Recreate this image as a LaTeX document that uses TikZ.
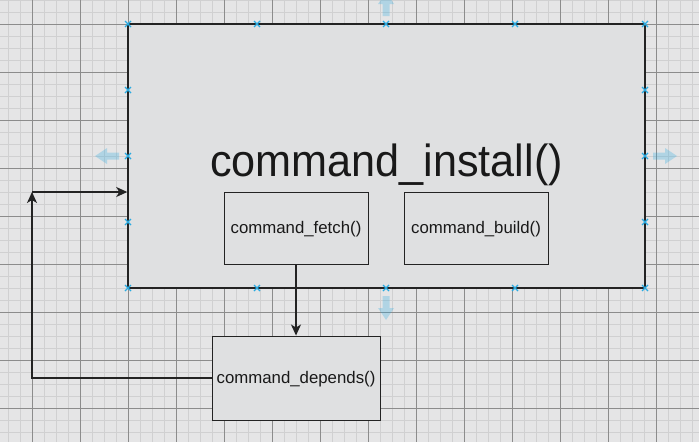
\documentclass[tikz,border=0pt]{standalone}
\usepackage{fontspec}
\setmainfont{Liberation Sans}
\newfontfamily\titlefont[FakeStretch=0.96]{Liberation Sans}
\usetikzlibrary{arrows.meta}
\definecolor{canvas}{RGB}{229,229,230}
\definecolor{boxfill}{RGB}{223,224,225}
\definecolor{minorgrid}{RGB}{208,208,209}
\definecolor{majorgrid}{RGB}{140,140,140}
\definecolor{handlecol}{RGB}{41,171,226}
\definecolor{edgecol}{RGB}{35,35,35}
\definecolor{txtcol}{RGB}{25,25,25}
\tikzset{
  minorline/.style={draw=minorgrid, line width=1pt},
  majorline/.style={draw=majorgrid, line width=1pt},
  bigbox/.style={draw=edgecol, fill=boxfill, line width=1.5pt, inner sep=0pt},
  smallbox/.style={draw=edgecol, fill=boxfill, line width=1pt, inner sep=0pt,
    text=txtcol, font=\fontsize{16.8}{20}\selectfont},
  conn/.style={draw=edgecol, line width=1.4pt, -{Stealth[length=11pt,width=10pt,inset=3pt]}},
  hoverarrow/.pic={\fill[handlecol, opacity=0.28] (0,-3.5) -- (12,-3.5) -- (12,-8) -- (24,0) -- (12,8) -- (12,3.5) -- (0,3.5) -- cycle;},
  handlemark/.pic={\draw[handlecol, line width=1.3pt] (-3,-3) -- (3,3) (-3,3) -- (3,-3);}
}
\begin{document}
\begin{tikzpicture}[x=1pt,y=-1pt]
\fill[canvas] (0,0) rectangle (699,442);
\useasboundingbox (0,0) rectangle (699,442);
% grid
\foreach \gx in {8,20,...,698} \draw[minorline] (\gx,0) -- (\gx,442);
\foreach \gy in {0,12,...,442} \draw[minorline] (0,\gy) -- (699,\gy);
\foreach \gx in {32,80,...,698} \draw[majorline] (\gx,0) -- (\gx,442);
\foreach \gy in {24,72,...,442} \draw[majorline] (0,\gy) -- (699,\gy);
% boxes
\node[bigbox, minimum width=517pt, minimum height=264pt] (install) at (386.5,156) {};
\node[anchor=base, text=txtcol, font=\titlefont\fontsize{45}{54}\selectfont] (installlabel) at (386.5,176) {command\_install()};
\node[smallbox, minimum width=144pt, minimum height=72pt, text height=12pt, text depth=2pt] (fetch) at (296,228) {command\_fetch()};
\node[smallbox, minimum width=144pt, minimum height=72pt, text height=12pt, text depth=2pt] (build) at (476,228) {command\_build()};
\node[smallbox, minimum width=168pt, minimum height=84pt, text height=12pt, text depth=2pt] (depends) at (296,378) {command\_depends()};
% connectors
\coordinate (bend) at (32,192);
\draw[conn] (fetch.south) -- (depends.north);
\draw[conn] (depends.west) -| (bend);
\draw[conn] (bend) -- (install.west |- bend);
% hover arrows
\pic[rotate=90] at (386,16) {hoverarrow};
\pic[rotate=-90] at (386,296) {hoverarrow};
\pic[rotate=180] at (119,156) {hoverarrow};
\pic at (653,156) {hoverarrow};
% handles
\foreach \hx in {128,257,386,515,645} {
  \pic at (\hx,24) {handlemark};
  \pic at (\hx,288) {handlemark};
}
\foreach \hy in {90,156,222} {
  \pic at (128,\hy) {handlemark};
  \pic at (645,\hy) {handlemark};
}
\end{tikzpicture}
\end{document}
